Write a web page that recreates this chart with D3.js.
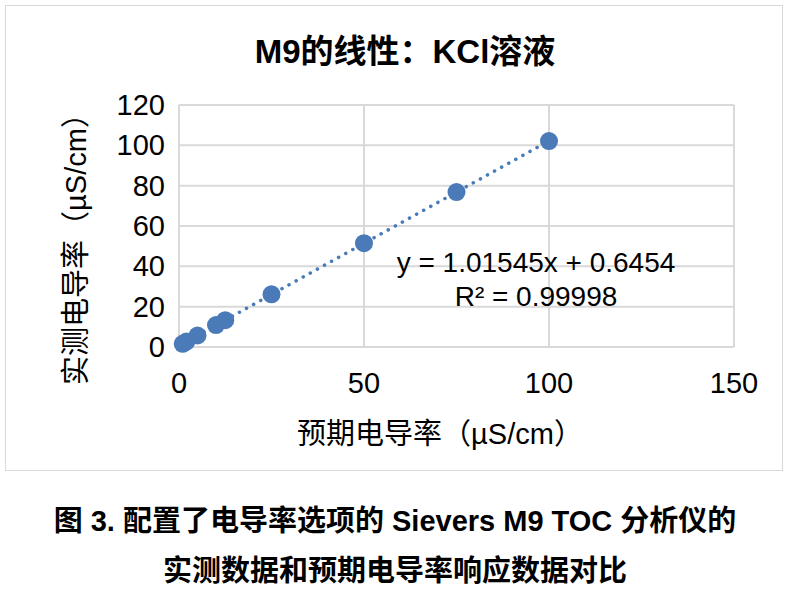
<!DOCTYPE html>
<html><head><meta charset="utf-8">
<script src="https://cdn.jsdelivr.net/npm/d3@7"></script>
<style>body{margin:0;background:#fff;font-family:Arial,"Liberation Sans","Noto Sans CJK SC",sans-serif;}</style>
</head><body>
<svg width="789" height="601"></svg>
<script>
"use strict";
var expected = [1, 2, 5, 10, 12.5, 25, 50, 75, 100];
var measured = [1.6, 2.7, 5.7, 10.9, 13.3, 26.1, 51.5, 76.8, 102.1];
var xTicks = [0, 50, 100, 150];
var yTicks = [0, 20, 40, 60, 80, 100, 120];
var slope = 1.01545, intercept = 0.6454;

var svg = d3.select("svg");
var font = 'Arial,"Liberation Sans","Noto Sans CJK SC",sans-serif';
svg.append("rect").attr("x",5.5).attr("y",5.5).attr("width",777).attr("height",465)
  .attr("fill","#fff").attr("stroke","#d9d9d9");

var x = d3.scaleLinear().domain([0,150]).range([179,734]);
var y = d3.scaleLinear().domain([0,120]).range([347,105]);

svg.append("g").selectAll("line").data(yTicks).enter().append("line")
  .attr("x1",x(0)).attr("x2",x(150)).attr("y1",d=>y(d)).attr("y2",d=>y(d))
  .attr("stroke","#d9d9d9").attr("stroke-width",2);
svg.append("g").selectAll("line").data(xTicks).enter().append("line")
  .attr("y1",y(0)).attr("y2",y(120)).attr("x1",d=>x(d)).attr("x2",d=>x(d))
  .attr("stroke","#d9d9d9").attr("stroke-width",2);

svg.append("g").selectAll("text").data(yTicks).enter().append("text")
  .attr("x",x(0)-14).attr("y",d=>y(d)+10).attr("text-anchor","end")
  .attr("font-size",29).attr("font-family",font).attr("fill","#000").text(d=>d);
svg.append("g").selectAll("text").data(xTicks).enter().append("text")
  .attr("x",d=>x(d)).attr("y",y(0)+46).attr("text-anchor","middle")
  .attr("font-size",29).attr("font-family",font).attr("fill","#000").text(d=>d);

svg.append("line").attr("x1",x(1)).attr("y1",y(slope*1+intercept))
  .attr("x2",x(100)).attr("y2",y(slope*100+intercept))
  .attr("stroke","#4a7ab7").attr("stroke-width",3.5).attr("stroke-dasharray","0.1 8")
  .attr("stroke-linecap","round");

svg.append("g").selectAll("circle").data(expected).enter().append("circle")
  .attr("cx",d=>x(d)).attr("cy",(d,i)=>y(measured[i])).attr("r",9)
  .attr("fill","#4a7ab7");

svg.append("text").attr("x",405).attr("y",63).attr("text-anchor","middle")
  .attr("font-size",33).attr("font-weight","bold").attr("font-family",font).text("M9的线性：KCl溶液");
svg.append("text").attr("x",536).attr("y",272).attr("text-anchor","middle")
  .attr("font-size",28).attr("font-family",font).text("y = 1.01545x + 0.6454");
svg.append("text").attr("x",536).attr("y",306).attr("text-anchor","middle")
  .attr("font-size",28).attr("font-family",font).text("R² = 0.99998");
svg.append("text").attr("x",440).attr("y",444).attr("text-anchor","middle")
  .attr("font-size",29).attr("font-family",font).text("预期电导率（µS/cm）");
svg.append("text").attr("transform","translate(86,242) rotate(-90)").attr("text-anchor","middle")
  .attr("font-size",29).attr("font-family",font).text("实测电导率（µS/cm）");

svg.append("text").attr("x",395).attr("y",531).attr("text-anchor","middle")
  .attr("font-size",29).attr("font-weight","bold").attr("font-family",font)
  .text("图 3. 配置了电导率选项的 Sievers M9 TOC 分析仪的");
svg.append("text").attr("x",395).attr("y",581).attr("text-anchor","middle")
  .attr("font-size",29).attr("font-weight","bold").attr("font-family",font)
  .text("实测数据和预期电导率响应数据对比");
</script>
</body></html>
